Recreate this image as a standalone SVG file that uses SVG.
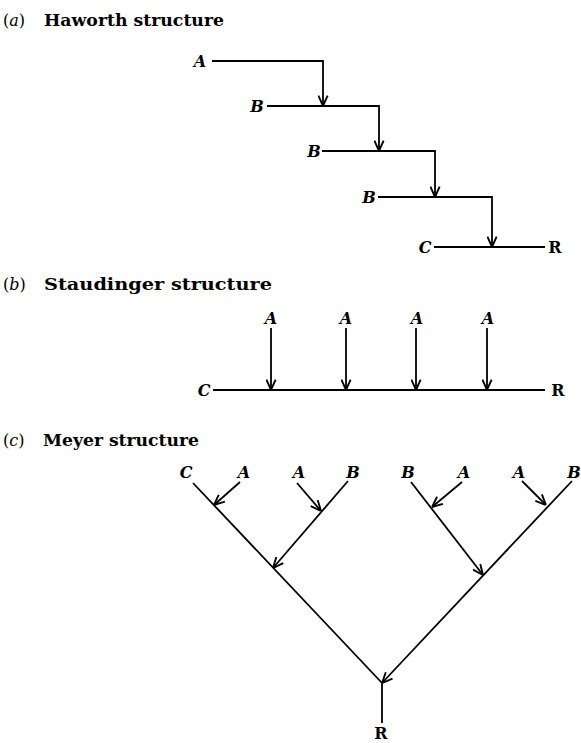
<svg xmlns="http://www.w3.org/2000/svg" width="581" height="743" viewBox="0 0 581 743">
  <defs>
    <marker id="arr" viewBox="0 0 10 10" refX="10" refY="5" markerWidth="11" markerHeight="11" markerUnits="userSpaceOnUse" orient="auto">
      <path d="M0.5,0.8 L10,5 L0.5,9.2" fill="none" stroke="#000" stroke-width="1.7"/>
    </marker>
    <style>
      .title { font-family: "DejaVu Serif", "Liberation Serif", serif; font-size: 16px; font-weight: bold; fill: #000; }
      .tag { font-family: "DejaVu Serif", "Liberation Serif", serif; font-size: 16px; fill: #000; }
      .lbl { font-family: "DejaVu Serif", "Liberation Serif", serif; font-size: 16px; font-style: italic; font-weight: bold; fill: #000; text-anchor: middle; }
      .r { font-family: "DejaVu Serif", "Liberation Serif", serif; font-size: 16px; font-weight: bold; fill: #000; text-anchor: middle; }
      .ln { fill: none; stroke: #000; stroke-width: 1.8; }
      .ar { fill: none; stroke: #000; stroke-width: 1.8; marker-end: url(#arr); }
    </style>
  </defs>

  <!-- section titles -->
  <g id="titles">
    <text class="tag" x="3" y="26">(<tspan font-style="italic">a</tspan>)</text>
    <text class="title" x="44" y="26" textLength="180" lengthAdjust="spacingAndGlyphs">Haworth structure</text>
    <text class="tag" x="3" y="290">(<tspan font-style="italic">b</tspan>)</text>
    <text class="title" x="44" y="290" textLength="228" lengthAdjust="spacingAndGlyphs">Staudinger structure</text>
    <text class="tag" x="3" y="446">(<tspan font-style="italic">c</tspan>)</text>
    <text class="title" x="43" y="446" textLength="156" lengthAdjust="spacingAndGlyphs">Meyer structure</text>
  </g>

  <!-- (a) Haworth structure: stepwise chain -->
  <g id="haworth-nodes">
    <g id="h-A"><text class="lbl" x="200" y="67">A</text></g>
    <g id="h-B1"><text class="lbl" x="257" y="112">B</text></g>
    <g id="h-B2"><text class="lbl" x="314" y="157">B</text></g>
    <g id="h-B3"><text class="lbl" x="369" y="203">B</text></g>
    <g id="h-C"><text class="lbl" x="425" y="253">C</text></g>
    <g id="h-R"><text class="r" x="555" y="253">R</text></g>
  </g>
  <g id="haworth-connectors">
    <path class="ar" d="M212,61 H323 V106"/>
    <path class="ar" d="M267,106 H379 V151"/>
    <path class="ar" d="M322,151 H435 V197"/>
    <path class="ar" d="M378,197 H492 V247"/>
    <path class="ln" d="M434,247 H545"/>
  </g>

  <!-- (b) Staudinger structure: side units on a backbone -->
  <g id="staudinger-nodes">
    <g id="s-A1"><text class="lbl" x="271" y="324">A</text></g>
    <g id="s-A2"><text class="lbl" x="346" y="324">A</text></g>
    <g id="s-A3"><text class="lbl" x="417" y="324">A</text></g>
    <g id="s-A4"><text class="lbl" x="488" y="324">A</text></g>
    <g id="s-C"><text class="lbl" x="204" y="396">C</text></g>
    <g id="s-R"><text class="r" x="558" y="396">R</text></g>
  </g>
  <g id="staudinger-connectors">
    <path class="ln" d="M213,390 H545"/>
    <path class="ar" d="M271,328 V390"/>
    <path class="ar" d="M346,328 V390"/>
    <path class="ar" d="M416,328 V390"/>
    <path class="ar" d="M487,328 V390"/>
  </g>

  <!-- (c) Meyer structure: branched tree -->
  <g id="meyer-nodes">
    <g id="m-C"><text class="lbl" x="186" y="478">C</text></g>
    <g id="m-A1"><text class="lbl" x="244" y="478">A</text></g>
    <g id="m-A2"><text class="lbl" x="299" y="478">A</text></g>
    <g id="m-B1"><text class="lbl" x="353" y="478">B</text></g>
    <g id="m-B2"><text class="lbl" x="408" y="478">B</text></g>
    <g id="m-A3"><text class="lbl" x="464" y="478">A</text></g>
    <g id="m-A4"><text class="lbl" x="519" y="478">A</text></g>
    <g id="m-B3"><text class="lbl" x="574" y="478">B</text></g>
    <g id="m-R"><text class="r" x="381" y="739">R</text></g>
  </g>
  <g id="meyer-connectors">
    <path class="ln" d="M193,483 L382,683 V723"/>
    <path class="ar" d="M240,482 L214,505"/>
    <path class="ar" d="M297,483 L321,511"/>
    <path class="ar" d="M348,481 L273,568"/>
    <path class="ar" d="M411,482 L483,575"/>
    <path class="ar" d="M462,482 L432,507"/>
    <path class="ar" d="M522,481 L546,505"/>
    <path class="ar" d="M572,481 L382,683"/>
  </g>
</svg>
